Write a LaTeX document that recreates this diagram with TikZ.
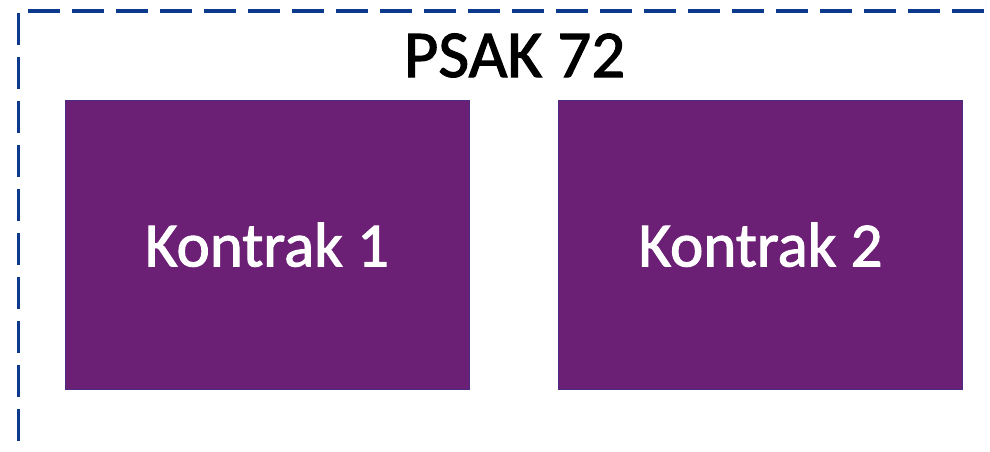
\documentclass[tikz,border=0pt]{standalone}
\usepackage{fontspec}
\setmainfont{Carlito}[BoldFont=Carlito,BoldFeatures={FakeBold=1.6}]
\definecolor{dashblue}{HTML}{0B3A8F}
\definecolor{kpurple}{HTML}{6B1F75}
\definecolor{kedge}{HTML}{4A2C82}
\begin{document}
\begin{tikzpicture}[x=1pt,y=-1pt,
  frame/.style={draw=dashblue,line width=3.3pt,dash pattern=on 32pt off 12pt},
  kbox/.style={draw=kedge,line width=0.8pt,fill=kpurple,text=white,
    minimum width=404pt,minimum height=289pt,inner sep=0pt,
    font=\bfseries\fontsize{63}{63}\selectfont,text depth=0pt},
  ktitle/.style={font=\bfseries\fontsize{67}{67}\selectfont,inner sep=0pt,anchor=base}]
\useasboundingbox (0,0) rectangle (990,451);
\coordinate (tl) at (28,11);
\coordinate (tr) at (995,11);
\coordinate (lt) at (18.5,13);
\coordinate (lb) at (18.5,460);
\draw[frame] (tl) -- (tr);
\draw[frame] (lt) -- (lb);
\node[ktitle] (title) at (514.5,77) {PSAK 72};
\node[kbox] (k1) at (267,244.5) {Kontrak 1};
\node[kbox] (k2) at (760.5,244.5) {Kontrak 2};
\end{tikzpicture}
\end{document}
